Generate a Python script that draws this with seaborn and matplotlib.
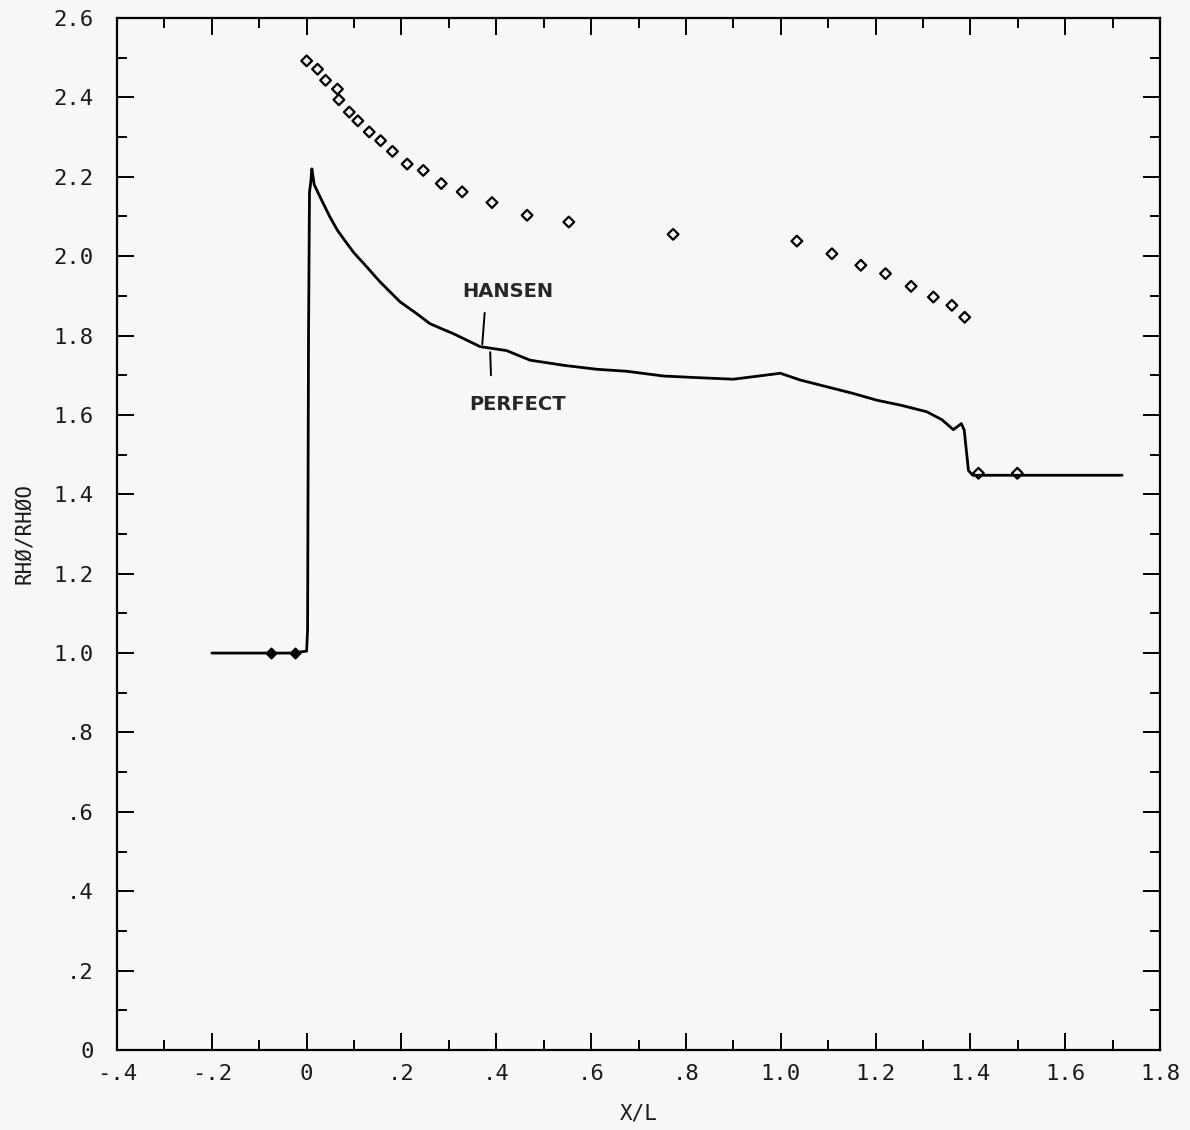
import matplotlib
matplotlib.use("Agg")
import matplotlib.pyplot as plt
import seaborn as sns
import pandas as pd
from matplotlib.ticker import MultipleLocator, FixedLocator

# ---- data ----
line_x = [-0.2, -0.08, -0.03, 0.0, 0.002, 0.004, 0.006, 0.009, 0.011, 0.016,
          0.028, 0.049, 0.065, 0.085, 0.10, 0.12, 0.155, 0.197, 0.23, 0.26,
          0.285, 0.309, 0.335, 0.366, 0.40, 0.422, 0.471, 0.542, 0.612, 0.675,
          0.753, 0.823, 0.9, 0.96, 0.999, 1.041, 1.097, 1.15, 1.203, 1.255,
          1.308, 1.34, 1.364, 1.381, 1.387, 1.396, 1.405, 1.72]
line_y = [1.0, 1.0, 1.0, 1.005, 1.06, 1.8, 2.16, 2.19, 2.22, 2.18,
          2.15, 2.099, 2.065, 2.032, 2.008, 1.982, 1.935, 1.885, 1.857, 1.830,
          1.817, 1.805, 1.790, 1.772, 1.766, 1.762, 1.738, 1.725, 1.715, 1.710,
          1.698, 1.694, 1.690, 1.699, 1.705, 1.688, 1.671, 1.655, 1.637, 1.624,
          1.608, 1.588, 1.563, 1.578, 1.562, 1.46, 1.448, 1.448]

open_x = [0.0, 0.023, 0.040, 0.065, 0.068, 0.090, 0.108, 0.132, 0.156, 0.181,
          0.212, 0.246, 0.284, 0.328, 0.391, 0.465, 0.553, 0.773, 1.034, 1.108,
          1.169, 1.221, 1.275, 1.322, 1.361, 1.388, 1.417, 1.499]
open_y = [2.492, 2.471, 2.443, 2.421, 2.394, 2.363, 2.341, 2.313, 2.291, 2.264,
          2.232, 2.216, 2.183, 2.162, 2.135, 2.103, 2.086, 2.055, 2.038, 2.006,
          1.977, 1.956, 1.924, 1.897, 1.876, 1.846, 1.453, 1.453]

filled_x = [-0.076, -0.025]
filled_y = [1.0, 1.0]

xticks = [-0.4, -0.2, 0.0, 0.2, 0.4, 0.6, 0.8, 1.0, 1.2, 1.4, 1.6, 1.8]
xtick_labels = ["-.4", "-.2", "0", ".2", ".4", ".6", ".8", "1.0", "1.2", "1.4", "1.6", "1.8"]
yticks = [0.0, 0.2, 0.4, 0.6, 0.8, 1.0, 1.2, 1.4, 1.6, 1.8, 2.0, 2.2, 2.4, 2.6]
ytick_labels = ["0", ".2", ".4", ".6", ".8", "1.0", "1.2", "1.4", "1.6", "1.8", "2.0", "2.2", "2.4", "2.6"]

# ---- figure ----
sns.set_style("ticks")
plt.rcParams["font.family"] = ["DejaVu Sans Mono", "DejaVu Sans"]
bg = "#f7f7f7"
ink = "#1a1a1a"

fig = plt.figure(figsize=(11.9, 11.3), dpi=100, facecolor=bg)
ax = fig.add_axes([117 / 1190, 80 / 1130, (1160 - 117) / 1190, (1112 - 80) / 1130])
ax.set_facecolor(bg)

line_df = pd.DataFrame({"x": line_x, "y": line_y})
sns.lineplot(data=line_df, x="x", y="y", sort=False, estimator=None,
             color="black", linewidth=2.0, ax=ax)

open_df = pd.DataFrame({"x": open_x, "y": open_y})
sns.scatterplot(data=open_df, x="x", y="y", marker="D", s=30,
                facecolor="none", edgecolor="black", linewidth=1.6, ax=ax, zorder=3)

filled_df = pd.DataFrame({"x": filled_x, "y": filled_y})
sns.scatterplot(data=filled_df, x="x", y="y", marker="D", s=30,
                color="black", edgecolor="black", linewidth=1.0, ax=ax, zorder=3)

ax.set_xlim(-0.4, 1.8)
ax.set_ylim(0, 2.6)
ax.xaxis.set_major_locator(FixedLocator(xticks))
ax.set_xticklabels(xtick_labels)
ax.yaxis.set_major_locator(FixedLocator(yticks))
ax.set_yticklabels(ytick_labels)
ax.xaxis.set_minor_locator(MultipleLocator(0.1))
ax.yaxis.set_minor_locator(MultipleLocator(0.1))

ax.tick_params(which="both", direction="in", top=True, right=True,
               labelsize=16, colors="black", labelcolor=ink, width=1.4)
ax.tick_params(which="major", length=12)
ax.tick_params(axis="x", which="major", pad=10)
ax.tick_params(axis="y", which="major", pad=17)
ax.tick_params(which="minor", length=7)
for sp in ax.spines.values():
    sp.set_linewidth(1.6)
    sp.set_color("black")

ax.set_xlabel("X/L", fontsize=15, labelpad=14, color=ink)
ax.set_ylabel("RHØ/RHØO", fontsize=15, labelpad=14, color=ink)

# curve labels with leader lines
ax.text(0.425, 1.91, "HANSEN", fontsize=14, fontweight="bold",
        family="DejaVu Sans", ha="center", va="center")
ax.text(0.444, 1.625, "PERFECT", fontsize=14, fontweight="bold",
        family="DejaVu Sans", ha="center", va="center")
ax.annotate("", xy=(0.370, 1.771), xytext=(0.376, 1.864),
            arrowprops=dict(arrowstyle="-", color="black", lw=1.4))
ax.annotate("", xy=(0.389, 1.693), xytext=(0.387, 1.765),
            arrowprops=dict(arrowstyle="-", color="black", lw=1.4))

fig.savefig("out.png", dpi=100, facecolor=bg)
